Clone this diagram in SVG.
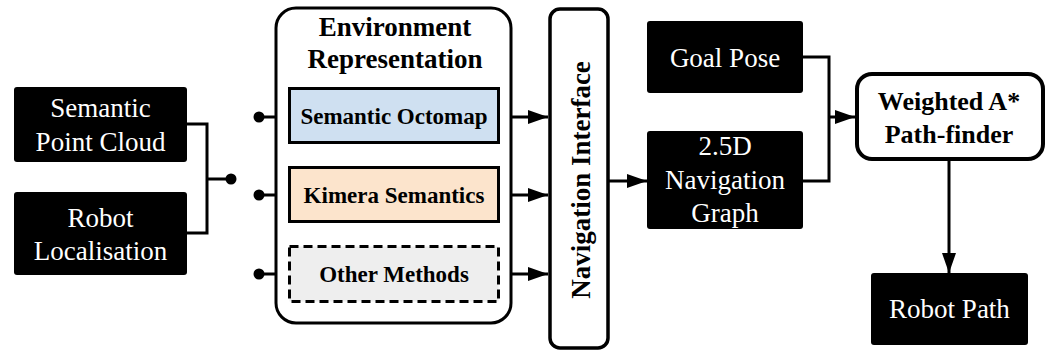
<svg xmlns="http://www.w3.org/2000/svg" width="1052" height="351" viewBox="0 0 1052 351">
<defs>
<style>
.blk{fill:#000;stroke:none}
.wt{font-family:"Liberation Serif","Times New Roman",Times,serif;font-weight:normal;font-size:27px;fill:#fff;text-anchor:middle}
.bt{font-family:"Liberation Serif","Times New Roman",Times,serif;font-weight:bold;fill:#000;text-anchor:middle}
.ln{fill:none;stroke:#000;stroke-width:3}
.dot{fill:#000}
</style>
<marker id="ah" markerUnits="userSpaceOnUse" markerWidth="20" markerHeight="14" refX="20" refY="7" orient="auto">
<path d="M0,0 L20,7 L0,14 z" fill="#000"/>
</marker>
</defs>
<rect width="1052" height="351" fill="#fff"/>
<g id="connectors">
<path class="ln" d="M187,124 H207 V233 H187 M207,179 H231"/>
<circle class="dot" cx="231" cy="179" r="5.5"/>
<circle class="dot" cx="259" cy="117" r="5.5"/>
<circle class="dot" cx="259" cy="195" r="5.5"/>
<circle class="dot" cx="259" cy="274" r="5.5"/>
<path class="ln" d="M259,117 H289 M259,195 H289 M259,274 H289"/>
<path class="ln" d="M499,117 H548" marker-end="url(#ah)"/>
<path class="ln" d="M499,195 H548" marker-end="url(#ah)"/>
<path class="ln" d="M499,274 H548" marker-end="url(#ah)"/>
<path class="ln" d="M608,181 H647" marker-end="url(#ah)"/>
<path class="ln" d="M803,57 H829 V181 H803"/>
<path class="ln" d="M829,117 H855" marker-end="url(#ah)"/>
<path class="ln" d="M949,160 V273" marker-end="url(#ah)"/>
</g>
<g id="semantic-point-cloud">
<rect class="blk" x="14" y="87" width="173" height="75" rx="3"/>
<text class="wt" x="100.5" y="117">Semantic</text>
<text class="wt" x="100.5" y="151">Point Cloud</text>
</g>
<g id="robot-localisation">
<rect class="blk" x="14" y="192" width="173" height="83" rx="3"/>
<text class="wt" x="100.5" y="227">Robot</text>
<text class="wt" x="100.5" y="260">Localisation</text>
</g>
<g id="environment-representation">
<rect x="276" y="8" width="235" height="315" rx="20" fill="#fff" stroke="#000" stroke-width="3"/>
<text class="bt" x="395" y="36" font-size="27">Environment</text>
<text class="bt" x="395" y="68" font-size="27">Representation</text>
</g>
<g id="semantic-octomap">
<rect x="289.5" y="88.5" width="209" height="54" fill="#cfe0f1" stroke="#000" stroke-width="3"/>
<text class="bt" x="394" y="124" font-size="23">Semantic Octomap</text>
</g>
<g id="kimera-semantics">
<rect x="289.5" y="167.5" width="209" height="54" fill="#fce4cc" stroke="#000" stroke-width="3"/>
<text class="bt" x="394" y="203" font-size="23">Kimera Semantics</text>
</g>
<g id="other-methods">
<rect x="289.5" y="246.5" width="209" height="55" fill="#eeeeee" stroke="#000" stroke-width="3" stroke-dasharray="9,5"/>
<text class="bt" x="394" y="282" font-size="23">Other Methods</text>
</g>
<g id="navigation-interface">
<rect x="550" y="9" width="58" height="339" rx="10" fill="#fff" stroke="#000" stroke-width="3.5"/>
<text class="bt" font-size="27" transform="translate(590,180) rotate(-90)" x="0" y="0">Navigation Interface</text>
</g>
<g id="goal-pose">
<rect class="blk" x="647" y="21" width="156" height="72" rx="3"/>
<text class="wt" x="725" y="67">Goal Pose</text>
</g>
<g id="navigation-graph">
<rect class="blk" x="647" y="131" width="156" height="98" rx="3"/>
<text class="wt" x="725" y="155">2.5D</text>
<text class="wt" x="725" y="189">Navigation</text>
<text class="wt" x="725" y="222">Graph</text>
</g>
<g id="weighted-astar">
<rect x="857" y="74" width="186" height="85" rx="15" fill="#fff" stroke="#000" stroke-width="4"/>
<text class="bt" x="949" y="110" font-size="26">Weighted A*</text>
<text class="bt" x="949" y="143" font-size="26">Path-finder</text>
</g>
<g id="robot-path">
<rect class="blk" x="871" y="273" width="157" height="72" rx="3"/>
<text class="wt" x="949.5" y="318">Robot Path</text>
</g>
</svg>
